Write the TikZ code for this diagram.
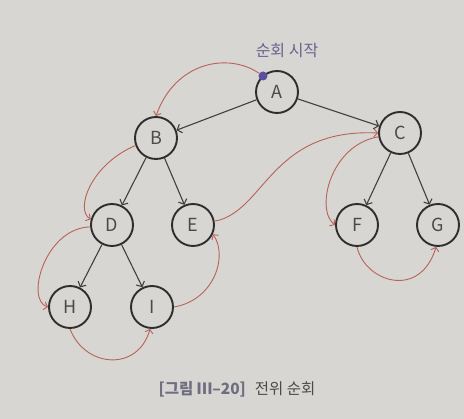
\documentclass[tikz,border=0pt]{standalone}
\usepackage{fontspec}
\setmainfont{Noto Sans CJK KR}
\usetikzlibrary{arrows.meta}
\definecolor{bg}{HTML}{D8D6D2}
\definecolor{ring}{HTML}{2E2E2E}
\definecolor{edgec}{HTML}{404040}
\definecolor{trc}{HTML}{B8625A}
\definecolor{dotc}{HTML}{5A4FA0}
\definecolor{lblc}{HTML}{6A6290}
\definecolor{capc}{HTML}{6E6E80}
\definecolor{txtc}{HTML}{4A4A4A}
\begin{document}
\begin{tikzpicture}[x=1pt,y=-1pt,
  tnode/.style={circle,draw=ring,line width=1.9pt,fill=bg,minimum size=42pt,inner sep=0pt,
    text=txtc,font=\fontsize{18}{20}\selectfont},
  edge/.style={draw=edgec,line width=1.1pt,-{Straight Barb[length=4pt,width=9pt]}},
  trav/.style={draw=trc,line width=0.9pt,-{Straight Barb[length=3.5pt,width=8pt]}},
  dotnode/.style={circle,fill=dotc,minimum size=9pt,inner sep=0pt},
]
\fill[bg] (0,0) rectangle (464,419);
\useasboundingbox (0,0) rectangle (464,419);

\node[tnode] (A) at (277,92) {A};
\node[tnode] (B) at (156,138) {B};
\node[tnode] (C) at (400,133) {C};
\node[tnode] (D) at (112,225) {D};
\node[tnode] (E) at (193,225) {E};
\node[tnode] (F) at (357,225) {F};
\node[tnode] (G) at (438,225) {G};
\node[tnode] (H) at (70,307) {H};
\node[tnode] (I) at (152,307) {I};

\draw[edge] (A) -- (B);
\draw[edge] (A) -- (C);
\draw[edge] (B) -- (D);
\draw[edge] (B) -- (E);
\draw[edge] (C) -- (F);
\draw[edge] (C) -- (G);
\draw[edge] (D) -- (H);
\draw[edge] (D) -- (I);

\node[dotnode] (s) at (263,76) {};
\node[text=lblc,font=\fontsize{16}{18}\selectfont] (start) at (287,51) {순회 시작};

\draw[trav] (s) .. controls (228,52) and (175,62) .. (B.north);
\draw[trav] (B.200) .. controls (90,165) and (75,210) .. (D.165);
\draw[trav] (D.185) .. controls (45,228) and (25,300) .. (H.west);
\draw[trav] (H.south) .. controls (85,368) and (138,372) .. (I.265);
\draw[trav] (I.east) .. controls (215,300) and (228,255) .. (E.-25);
\draw[trav] (E.10) .. controls (265,212) and (270,128) .. (C.west);
\draw[trav] (C.190) .. controls (330,145) and (315,210) .. (F.west);
\draw[trav] (F.south) .. controls (365,282) and (420,300) .. (G.265);

\node[font=\fontsize{15.5}{18}\selectfont] (cap) at (237,389)
  {\textcolor{capc}{\textbf{[그림 Ⅲ–20]}}\hspace{9pt}\textcolor{txtc}{전위 순회}};
\end{tikzpicture}
\end{document}
